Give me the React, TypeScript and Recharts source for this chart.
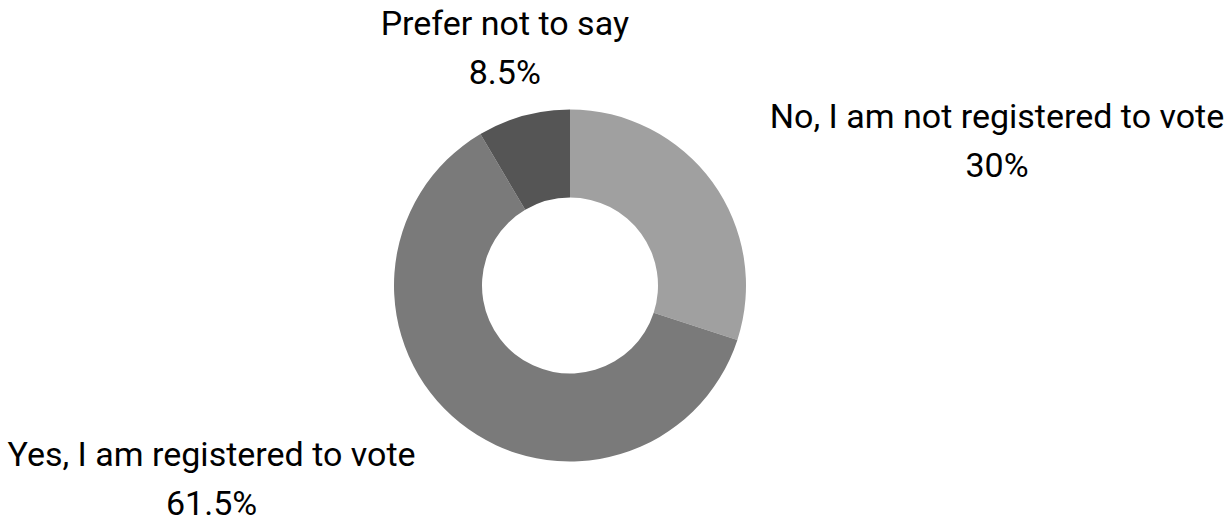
import React from "react";
import { PieChart, Pie, Cell } from "recharts";

const answers = [
  "No, I am not registered to vote",
  "Yes, I am registered to vote",
  "Prefer not to say",
];
const shares = [30, 61.5, 8.5];
const sliceColors = ["#a0a0a0", "#7a7a7a", "#555555"];

const data = answers.map((name, i) => ({ name, value: shares[i] }));

const FONT_SIZE = 34;
const LINE_GAP = 49;
const FONT = "Roboto, 'Noto Sans', sans-serif";

// measure label width so the percentage line can sit centred under the name
let canvas: HTMLCanvasElement | null = null;
const textWidth = (s: string) => {
  if (!canvas) canvas = document.createElement("canvas");
  const ctx = canvas.getContext("2d");
  if (!ctx) return s.length * FONT_SIZE * 0.45;
  ctx.font = `${FONT_SIZE}px Roboto`;
  return ctx.measureText(s).width;
};

const RADIAN = Math.PI / 180;

const renderLabel = (props: any) => {
  const { cx, cy, midAngle, outerRadius, name, value } = props;
  const r = outerRadius + 71;
  const cos = Math.cos(-midAngle * RADIAN);
  const sin = Math.sin(-midAngle * RADIAN);
  const px = cx + r * cos;
  const py = cy + r * sin;
  const w = textWidth(name);
  let centerX = px;
  if (cos > 0.3) centerX = px + w / 2;
  else if (cos < -0.3) centerX = px - w / 2;
  const baseline = py - 12.5;
  return (
    <text
      textAnchor="middle"
      fontFamily={FONT}
      fontSize={FONT_SIZE}
      fill="#000000"
    >
      <tspan x={centerX} y={baseline}>
        {name}
      </tspan>
      <tspan x={centerX} y={baseline + LINE_GAP}>
        {`${value}%`}
      </tspan>
    </text>
  );
};

export default function App() {
  return (
    <div style={{ position: "absolute", left: 0, top: 0, background: "#fff" }}>
      <PieChart
        width={1230}
        height={521}
        margin={{ top: 0, right: 0, bottom: 0, left: 0 }}
      >
        <Pie
          data={data}
          dataKey="value"
          nameKey="name"
          cx={570}
          cy={285.5}
          innerRadius={88}
          outerRadius={176}
          startAngle={90}
          endAngle={-270}
          stroke="none"
          label={renderLabel}
          labelLine={false}
          isAnimationActive={false}
        >
          {data.map((d, i) => (
            <Cell key={d.name} fill={sliceColors[i]} />
          ))}
        </Pie>
      </PieChart>
    </div>
  );
}
